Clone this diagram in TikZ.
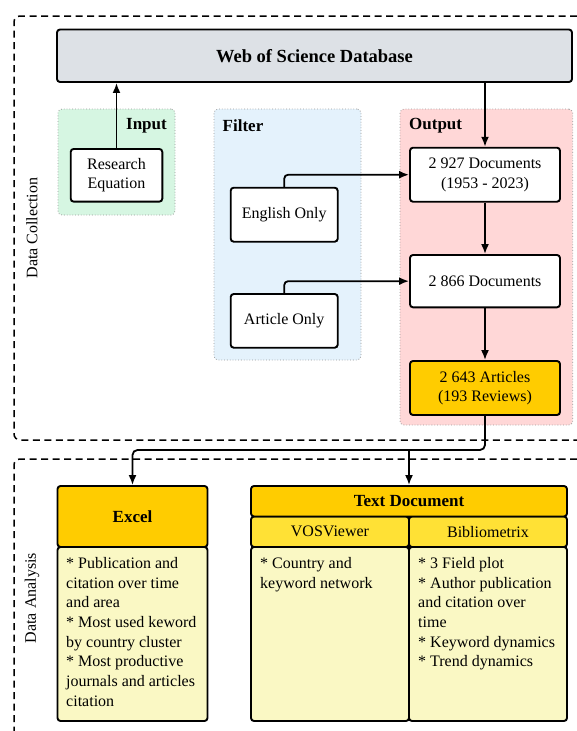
\documentclass[tikz,border=0pt]{standalone}
\usepackage{fontspec}
\setmainfont{Liberation Serif}
\usetikzlibrary{arrows.meta}
\definecolor{wosgray}{HTML}{DDE1E6}
\definecolor{ingreen}{HTML}{D6F6E2}
\definecolor{filtblue}{HTML}{E4F2FC}
\definecolor{outpink}{HTML}{FFD7D7}
\definecolor{gold}{HTML}{FFCC00}
\definecolor{lemon}{HTML}{FFE135}
\definecolor{paleyellow}{HTML}{FAF8C4}
\tikzset{
  box/.style={draw=black, line width=1.9pt, rounded corners=3pt, fill=white, align=center, inner sep=0pt,
    font=\fontsize{16}{19.5}\selectfont},
  grp/.style={draw=gray!80, dotted, line width=0.8pt, rounded corners=4pt, inner sep=0pt},
  grplbl/.style={inner sep=0pt, font=\fontsize{17}{20}\selectfont\bfseries},
  conn/.style={line width=1.8pt, -{Latex[length=10pt,width=8pt]}},
  dashbox/.style={dash pattern=on 7pt off 4.5pt, line width=1.5pt, rounded corners=6pt},
  sidelbl/.style={rotate=90, inner sep=0pt, font=\fontsize{16}{19}\selectfont},
  bodytxt/.style={anchor=north west, inner sep=0pt, align=left, font=\fontsize{16}{19.7}\selectfont}
}
\begin{document}
\begin{tikzpicture}[x=1pt,y=-1pt]
\useasboundingbox (0,0) rectangle (577,731);
% dashed section frames
\draw[dashbox] (600,16) -- (14,16) -- (14,440) -- (600,440);
\draw[dashbox] (600,459) -- (14,459) -- (14,760);
\node[sidelbl] (dclbl) at (32,228) {Data Collection};
\node[sidelbl] (dalbl) at (32,598) {Data Analysis};

% groups
\node[grp, fill=ingreen, minimum width=117, minimum height=106] (ingrp) at (116.5,162) {};
\node[grp, fill=filtblue, minimum width=147, minimum height=251] (filtgrp) at (287.5,234.5) {};
\node[grp, fill=outpink, minimum width=172.7, minimum height=316] (outgrp) at (486.35,267) {};
\node[grplbl, anchor=east] (inlbl) at (167,126) {Input};
\node[grplbl, anchor=west] (filtlbl) at (222.5,126) {Filter};
\node[grplbl, anchor=west] (outlbl) at (409,126) {Output};

% top database
\node[box, fill=wosgray, minimum width=515, minimum height=52.5, font=\fontsize{18.5}{22}\selectfont\bfseries] (wos) at (314.5,55.75) {Web of Science Database};

% nodes
\node[box, minimum width=91.6, minimum height=52.7] (research) at (116.5,175.3) {Research\\Equation};
\node[box, minimum width=107, minimum height=54] (english) at (284.2,214.7) {English Only};
\node[box, minimum width=107, minimum height=53.7] (article) at (284.2,320.85) {Article Only};
\node[box, minimum width=150, minimum height=54] (d2927) at (485,174.7) {2~927 Documents\\(1953 - 2023)};
\node[box, minimum width=150, minimum height=52.3] (d2866) at (485,281.15) {2~866 Documents};
\node[box, fill=gold, minimum width=150, minimum height=54] (a2643) at (485,388) {2~643 Articles\\(193 Reviews)};

% analysis boxes
\node[box, fill=paleyellow, minimum width=150, minimum height=174] (excelc) at (132.5,634) {};
\node[box, fill=gold, minimum width=150, minimum height=61, font=\fontsize{17}{20}\selectfont\bfseries] (excelh) at (132.5,516.5) {Excel};
\node[box, fill=paleyellow, minimum width=158, minimum height=174] (vosc) at (330,634) {};
\node[box, fill=paleyellow, minimum width=158, minimum height=174] (bibc) at (488,634) {};
\node[box, fill=lemon, minimum width=158, minimum height=30.5] (vosh) at (330,531.75) {VOSViewer};
\node[box, fill=lemon, minimum width=158, minimum height=30.5] (bibh) at (488,531.75) {Bibliometrix};
\node[box, fill=gold, minimum width=316, minimum height=30.5, font=\fontsize{17}{20}\selectfont\bfseries] (textdoc) at (409,501.25) {Text Document};

\node[bodytxt] (excelt) at (66,557) {* Publication and\\citation over time\\and area\\* Most used keword\\by country cluster\\* Most productive\\journals and articles\\citation};
\node[bodytxt] (vost) at (260,557) {* Country and\\keyword network};
\node[bodytxt] (bibt) at (418,557) {* 3 Field plot\\* Author publication\\and citation over\\time\\* Keyword dynamics\\* Trend dynamics};

% connectors
\draw[conn] (research.north) -- (research.north |- wos.south);
\draw[conn] (d2927.north |- wos.south) -- (d2927.north);
\draw[conn, rounded corners=4pt] (english.north) |- (d2927.west);
\draw[conn, rounded corners=4pt] (article.north) |- (d2866.west);
\draw[conn] (d2927.south) -- (d2866.north);
\draw[conn] (d2866.south) -- (a2643.north);
\coordinate (split) at (409,450);
\draw[conn, rounded corners=5pt] (a2643.south) |- (split) -| (excelh.north);
\draw[conn] (split) -- (textdoc.north);
\end{tikzpicture}
\end{document}
